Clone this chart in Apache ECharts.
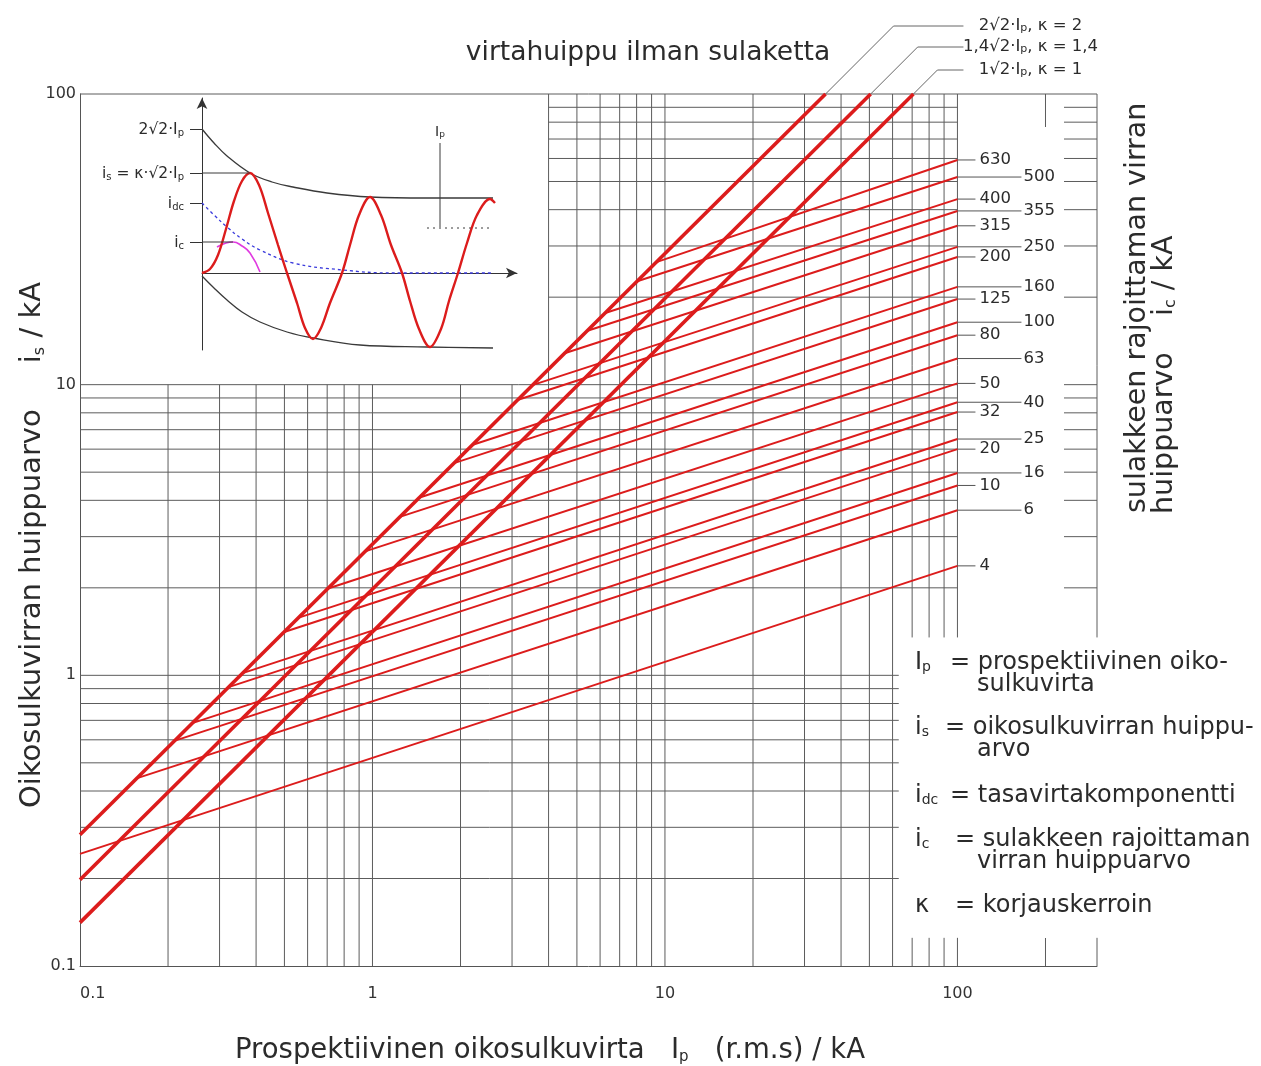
<!DOCTYPE html>
<html><head><meta charset="utf-8">
<script src="https://cdn.jsdelivr.net/npm/echarts@6/dist/echarts.min.js"></script>
<style>html,body{margin:0;padding:0;background:#fff}#c{width:1261px;height:1066px}</style>
</head><body><div id="c"></div>
<script>
// ================= DATA =================
const xTickLabels = [0.1, 1, 10, 100];
const yTickLabels = [0.1, 1, 10, 100];
const gridX = [0.1,0.2,0.3,0.4,0.5,0.6,0.7,0.8,0.9,1,2,3,4,5,6,7,8,9,10,20,30,40,50,60,70,80,90,100];
const gridY = [0.1,0.2,0.3,0.4,0.5,0.6,0.7,0.8,0.9,1,2,3,4,5,6,7,8,9,10,20,30,40,50,60,70,80,90,100];
const rightTicksY = [2,3,4,5,6,7,8,9,10,20,30,40,50,60,70,80,90];
const outerTicksX = [200];

// peak current without fuse: is = kappa*sqrt2*Ip
const kappaLabels = ['2√2·I|p|, κ = 2', '1,4√2·I|p|, κ = 1,4', '1√2·I|p|, κ = 1'];
const kappaStartIp = [0.1, 0.1, 0.1];
const kappaStartIs = [0.283, 0.198, 0.141];
const kappaEndIp = [35.4, 50.5, 70.7];
const kappaEndIs = [100, 100, 100];

// fuse cut-off current lines
const fuseRatings = ['630','500','400','355','315','250','200','160','125','100','80','63','50','40','32','25','20','16','10','6','4'];
const fuseStartIp = [9.35, 8.04, 6.21, 5.40, 4.51, 3.52, 3.13, 2.19, 1.90, 1.45, 1.24, 0.944, 0.705, 0.560, 0.499, 0.362, 0.322, 0.242, 0.210, 0.156, 0.1];
const fuseStartIc = [26.4, 22.7, 17.6, 15.3, 12.8, 9.96, 8.86, 6.2, 5.37, 4.09, 3.51, 2.67, 1.99, 1.58, 1.41, 1.02, 0.911, 0.685, 0.595, 0.442, 0.243];
const fuseEndIp = [100,100,100,100,100,100,100,100,100,100,100,100,100,100,100,100,100,100,100,100,100];
const fuseEndIc = [59.3, 51.8, 43.5, 39.6, 35.2, 29.8, 27.5, 21.7, 19.7, 16.4, 14.8, 12.3, 10.1, 8.7, 8.05, 6.5, 6.0, 4.97, 4.5, 3.7, 2.38];

// inset sketch (schematic units)
const insetUpper = [[0,144],[12,130],[25,117],[48,100],[70,91],[91,86],[125,80],[168,76],[225,75],[291,75]];
const insetLower = [[0,-3],[12,-15],[25,-27],[40,-39],[58,-49],[85,-59],[111,-65],[158,-72],[225,-74],[291,-75]];
const insetWave = [[0,0],[8,4],[16,18],[24,44],[32,72],[40,92],[48,100],[57,88],[66,60],[76,28],[85,0],[95,-30],[103,-55],[111,-66],[119,-55],[128,-30],[140,0],[148,28],[157,58],[168,76],[179,58],[189,28],[200,0],[208,-28],[217,-56],[228,-74],[239,-56],[247,-28],[256,0],[265,30],[275,58],[288,74],[293,70]];
const insetDc = [[0,70],[12,58],[25,46],[40,34],[58,23],[91,10],[141,3],[191,0],[291,0]];
const insetCut = [[15,26],[24,30],[31,31],[40,27],[48,20],[58,1]];
const insetIsRef = [[0,100],[48,100]];
const insetIcRef = [[0,31],[31,31]];
const insetIpBar = [[238,130],[238,46]];
const insetIpDots = [[225,45],[288,45]];
const insetTickValues = [31, 70, 100, 144];
const insetTickLabels = ['i|c|', 'i|dc|', 'i|s| = κ·√2·I|p|', '2√2·I|p|'];

// ================= STYLE / LAYOUT =================
const FONT = '"DejaVu Sans", "Noto Sans", sans-serif';
const TXT = '#2b2b2b';
const GRIDC = '#5c5c5c';
const RED = '#dc1c1c';
const X_MIN = 0.1, X_MAX = 300, Y_MIN = 0.1, Y_MAX = 100;
const INSET_X = 4, INSET_Y = 10;              // empty window for the inset sketch
const LEG_X = 63, LEG_Y0 = 0.125, LEG_Y1 = 1.35; // empty window for the legend text
const RIGHT_COL = new Set(['500','355','250','160','100','63','40','25','16','6']);
const KAPPA_ELBOW = [68, 47, 24];

// "a|b|c" -> rich string, odd parts are subscripts
function richStr(s) {
  return s.split('|').map((p, i) => p === '' ? '' : (i % 2 ? '{s|' + p + '}' : '{m|' + p + '}')).join('');
}
function richSet(size, sub) {
  return {
    m: {fontSize: size, fontFamily: FONT, fill: TXT, color: TXT, verticalAlign: 'bottom', lineHeight: size * 1.2},
    s: {fontSize: sub, fontFamily: FONT, fill: TXT, color: TXT, verticalAlign: 'bottom', lineHeight: size * 1.2}
  };
}

function gridRender(params, api) {
  const ch = [];
  const seg = (p1, p2, color, w) => ch.push({type: 'line', silent: true,
    shape: {x1: p1[0], y1: p1[1], x2: p2[0], y2: p2[1]},
    style: {stroke: color || GRIDC, lineWidth: w || 1}});
  const c = (x, y) => api.coord([x, y]);
  gridX.forEach(x => {
    if (x === X_MIN) return;
    if (x < INSET_X) seg(c(x, Y_MIN), c(x, INSET_Y));
    else if (x > LEG_X) { seg(c(x, Y_MIN), c(x, LEG_Y0)); seg(c(x, LEG_Y1), c(x, Y_MAX)); }
    else seg(c(x, Y_MIN), c(x, Y_MAX));
  });
  gridY.forEach(y => {
    if (y === Y_MIN || y === Y_MAX) return;
    const xs = y > INSET_Y ? INSET_X : X_MIN;
    const xe = (y > LEG_Y0 && y < LEG_Y1) ? LEG_X : 100;
    seg(c(xs, y), c(xe, y));
  });
  seg(c(X_MIN, Y_MAX), c(X_MAX, Y_MAX));
  seg(c(X_MAX, Y_MIN), c(X_MAX, LEG_Y0));
  seg(c(X_MAX, LEG_Y1), c(X_MAX, Y_MAX));
  rightTicksY.forEach(y => { const p = c(X_MAX, y); seg([p[0] - 33, p[1]], p); });
  outerTicksX.forEach(x => {
    const t = c(x, Y_MAX), b = c(x, Y_MIN);
    seg(t, [t[0], t[1] + 33]); seg(b, [b[0], b[1] - 28]);
  });
  fuseRatings.forEach((r, i) => {
    const p = c(fuseEndIp[i], fuseEndIc[i]);
    seg(p, [p[0] + (RIGHT_COL.has(r) ? 64 : 18), p[1]], '#555');
  });
  const xr = c(100, Y_MAX)[0];
  kappaLabels.forEach((lab, i) => {
    const p = c(kappaEndIp[i], kappaEndIs[i]);
    const d = KAPPA_ELBOW[i];
    const e = [p[0] + d, p[1] - d];
    seg(p, e, '#666'); seg(e, [xr + 6, e[1]], '#666');
    ch.push({type: 'text', silent: true, x: xr + 73, y: e[1] - 2,
      style: {text: richStr(lab), rich: richSet(16.5, 11), align: 'center', verticalAlign: 'middle'}});
  });
  return {type: 'group', children: ch};
}

const series = [];
series.push({type: 'custom', xAxisIndex: 0, yAxisIndex: 0, clip: false, z: 1, silent: true,
  data: [[1, 1]], renderItem: gridRender});

kappaLabels.forEach((lab, i) => series.push({
  type: 'line', xAxisIndex: 0, yAxisIndex: 0, z: 4, symbol: 'none', silent: true,
  lineStyle: {color: RED, width: 3.6},
  data: [[kappaStartIp[i], kappaStartIs[i]], [kappaEndIp[i], kappaEndIs[i]]]
}));
fuseRatings.forEach((r, i) => series.push({
  type: 'line', name: r, xAxisIndex: 0, yAxisIndex: 0, z: 3, symbol: 'none', silent: true,
  lineStyle: {color: RED, width: 2},
  data: [[fuseStartIp[i], fuseStartIc[i]], [fuseEndIp[i], fuseEndIc[i]]],
  endLabel: {show: true, formatter: r, distance: RIGHT_COL.has(r) ? 66 : 22,
    color: TXT, fontSize: 16.5, fontFamily: FONT}
}));

const inset = (data, color, width, extra) => Object.assign({
  type: 'line', xAxisIndex: 1, yAxisIndex: 1, symbol: 'none', silent: true, z: 5,
  lineStyle: {color: color, width: width}, data: data}, extra || {});
series.push(inset(insetUpper, '#3a3a3a', 1.3, {smooth: 0.4}));
series.push(inset(insetLower, '#3a3a3a', 1.3, {smooth: 0.4}));
series.push(inset(insetDc, '#3b3bdc', 1.3, {smooth: 0.4, lineStyle: {color: '#3b3bdc', width: 1.3, type: [3, 3]}}));
series.push(inset(insetCut, '#e03ce0', 1.6, {smooth: 0.5}));
series.push(inset(insetWave, RED, 2.4, {smooth: 0.35}));
series.push(inset(insetIsRef, '#3a3a3a', 1));
series.push(inset(insetIcRef, '#3a3a3a', 1));
series.push(inset(insetIpBar, '#3a3a3a', 1));
series.push(inset(insetIpDots, '#3a3a3a', 1, {lineStyle: {color: '#3a3a3a', width: 1, type: [2, 4]}}));

function gtext(x, y, text, size, sub, align, rot) {
  const o = {type: 'text', x: x, y: y, silent: true, z: 10,
    style: {text: richStr(text), rich: richSet(size, sub), align: align || 'left', verticalAlign: 'middle',
      textAlign: align || 'left', textVerticalAlign: 'middle'}};
  if (rot) o.rotation = rot;
  return o;
}
const LG = 24, LS = 14;
const graphic = [
  gtext(648, 51, 'virtahuippu ilman sulaketta', 26.5, 15, 'center'),
  gtext(550, 1048, 'Prospektiivinen oikosulkuvirta   I|p|   (r.m.s) / kA', 27.5, 15, 'center'),
  gtext(30, 545, 'Oikosulkuvirran huippuarvo     i|s| / kA', 29, 16, 'center', Math.PI / 2),
  gtext(1135, 513, 'sulakkeen rajoittaman virran', 28.5, 16, 'left', Math.PI / 2),
  gtext(1162, 514, 'huippuarvo    i|c| / kA', 28.5, 16, 'left', Math.PI / 2),
  gtext(440, 131, 'I|p|', 14, 9, 'center'),
  gtext(915, 660, 'I|p|', LG, LS), gtext(950, 660, '= prospektiivinen oiko-', LG, LS), gtext(977, 682, 'sulkuvirta', LG, LS),
  gtext(915, 725, 'i|s|', LG, LS), gtext(945, 725, '= oikosulkuvirran huippu-', LG, LS), gtext(977, 747, 'arvo', LG, LS),
  gtext(915, 793, 'i|dc|', LG, LS), gtext(950, 793, '= tasavirtakomponentti', LG, LS),
  gtext(915, 837, 'i|c|', LG, LS), gtext(955, 837, '= sulakkeen rajoittaman', LG, LS), gtext(977, 859, 'virran huippuarvo', LG, LS),
  gtext(915, 903, 'κ', LG, LS), gtext(955, 903, '= korjauskerroin', LG, LS)
];

const option = {
  animation: false,
  backgroundColor: '#fff',
  grid: [
    {left: 80, top: 94, width: 1017, height: 872, containLabel: false},
    {left: 202, top: 98, width: 315, height: 252, containLabel: false}
  ],
  xAxis: [
    {type: 'log', gridIndex: 0, min: X_MIN, max: X_MAX, logBase: 10,
      axisLine: {show: true, lineStyle: {color: '#555', width: 1}},
      axisTick: {show: false}, splitLine: {show: false}, minorSplitLine: {show: false},
      axisLabel: {show: true, margin: 20, color: '#333', fontSize: 16, fontFamily: FONT,
        showMaxLabel: false, alignMinLabel: 'left',
        formatter: v => { const r = xTickLabels.find(t => Math.abs(t - v) / t < 1e-6); return r === undefined ? '' : String(r); }}},
    {type: 'value', gridIndex: 1, min: 0, max: 315,
      axisLine: {show: true, onZero: true, symbol: ['none', 'arrow'], symbolSize: [8, 11], lineStyle: {color: '#333', width: 1}},
      axisTick: {show: false}, axisLabel: {show: false}, splitLine: {show: false}}
  ],
  yAxis: [
    {type: 'log', gridIndex: 0, min: Y_MIN, max: Y_MAX, logBase: 10,
      axisLine: {show: true, lineStyle: {color: '#555', width: 1}},
      axisTick: {show: false}, splitLine: {show: false},
      axisLabel: {show: true, margin: 4, color: '#333', fontSize: 16, fontFamily: FONT,
        formatter: v => { const r = yTickLabels.find(t => Math.abs(t - v) / t < 1e-6); return r === undefined ? '' : String(r); }}},
    {type: 'value', gridIndex: 1, min: -77, max: 175,
      axisLine: {show: true, onZero: true, symbol: ['none', 'arrow'], symbolSize: [8, 11], lineStyle: {color: '#333', width: 1}},
      axisTick: {show: true, length: 12, customValues: insetTickValues, lineStyle: {color: '#333', width: 1}},
      axisLabel: {show: true, margin: 18, customValues: insetTickValues,
        formatter: v => { const i = insetTickValues.indexOf(v); return i < 0 ? '' : richStr(insetTickLabels[i]); },
        rich: {m: {fontSize: 15.5, fontFamily: FONT, color: TXT, verticalAlign: 'bottom', lineHeight: 18},
               s: {fontSize: 10, fontFamily: FONT, color: TXT, verticalAlign: 'bottom', lineHeight: 18}}},
      splitLine: {show: false}}
  ],
  graphic: graphic,
  series: series
};
const chart = echarts.init(document.getElementById('c'), null, {renderer: 'canvas'});
chart.setOption(option);
</script>
</body></html>
